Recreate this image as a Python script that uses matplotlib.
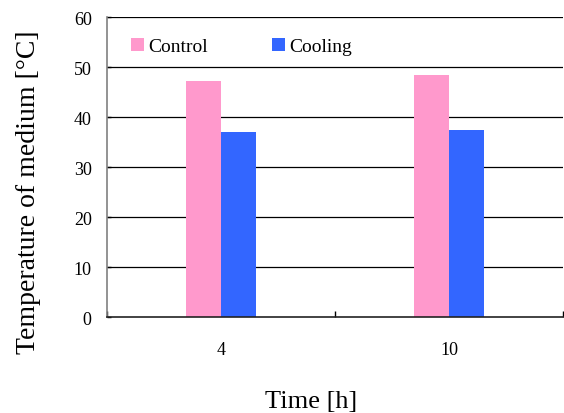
import matplotlib
matplotlib.use("Agg")
import matplotlib.pyplot as plt
import numpy as np

categories = ["4", "10"]
control = [47.3, 48.5]
cooling = [37.1, 37.5]
series_names = ["Control", "Cooling"]
yticks = [0, 10, 20, 30, 40, 50, 60]

plt.rcParams['font.family'] = ['Liberation Serif', 'DejaVu Serif']

fig = plt.figure(figsize=(5.64, 4.14), dpi=100)
ax = fig.add_axes([107/564, 1-318.3/414, 456/564, 300/414])

x = np.arange(len(categories))
w = 35/228
ax.bar(x - w/2, control, width=w, color="#FF99CC", label=series_names[0], zorder=2)
ax.bar(x + w/2, cooling, width=w, color="#3366FF", label=series_names[1], zorder=2)

ax.set_xlim(-0.5, len(categories) - 0.5)
ax.set_ylim(0, 60)
ax.set_yticks(yticks)
ax.set_yticklabels([str(t) for t in yticks], fontsize=13)
ax.tick_params(axis='y', direction='in', length=3, width=1, color='black', pad=11)
for t in yticks[1:]:
    ax.axhline(t, color="black", lw=0.9, zorder=1)

ax.set_xticks(x)
ax.set_xticklabels(categories, fontsize=13)
ax.tick_params(axis='x', which='major', length=0, pad=17)
ax.set_xticks(np.arange(-0.5, len(categories), 1.0), minor=True)
ax.tick_params(axis='x', which='minor', direction='in', length=4, color='black', width=1)

for s in ['top', 'right']:
    ax.spines[s].set_visible(False)
ax.spines['left'].set_color('#808080')
ax.spines['left'].set_linewidth(1.2)
ax.spines['bottom'].set_color('#222222')
ax.spines['bottom'].set_linewidth(1.2)

ax.set_ylabel("Temperature of medium [°C]", fontsize=20)
ax.yaxis.set_label_coords((41-107)/456, (318.3-192.5)/300)
ax.set_xlabel("Time [h]", fontsize=19)
ax.xaxis.set_label_coords((311-107)/456, (318.3-391)/300)

ax.legend(loc='center left', bbox_to_anchor=((131-107)/456, (318.3-47.5)/300), ncol=2, frameon=False,
          fontsize=14, handlelength=0.68, handleheight=0.68, handletextpad=0.2,
          columnspacing=3.3, borderaxespad=0, borderpad=0)

fig.savefig("out.png", dpi=100)
